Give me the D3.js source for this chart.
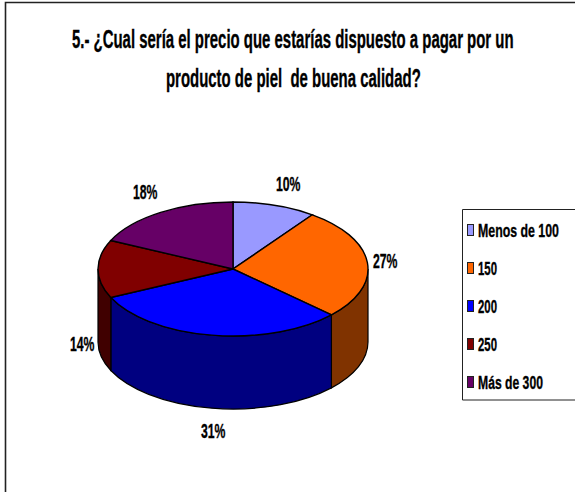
<!DOCTYPE html>
<html><head><meta charset="utf-8">
<script src="https://cdn.jsdelivr.net/npm/d3@7"></script>
<style>html,body{margin:0;padding:0;background:#fff}svg{display:block}text{font-family:"Liberation Sans",Arial,sans-serif;font-weight:bold;fill:#000;stroke:#000;stroke-width:.35;white-space:pre}</style>
</head><body><svg id="c" width="575" height="492"></svg>
<script>
const categories = ["Menos de 100","150","200","250","Más de 300"];
const values = [10,27,31,14,18];
const labels = ["10%","27%","31%","14%","18%"];
const topColors = ["#9999FF","#FF6600","#0000FF","#800000","#660066"];
const sideColors = ["#4C4C80","#803300","#000080","#400000","#330033"];
const titleLines = ["5.- ¿Cual sería el precio que estarías dispuesto a pagar por un","producto de piel  de buena calidad?"];

const svg = d3.select("#c");
// text squeezed horizontally to fit [x, x+w]
function fit(t,x,y,w,fs){
  const el=svg.append("text").attr("font-size",fs).text(t);
  const k=w/el.node().getComputedTextLength();
  el.attr("transform",`translate(${x},${y}) scale(${k},1)`);
  return el;
}
// frame
svg.append("path").attr("d","M575,2.5H5.5V492").attr("fill","none").attr("stroke","#222").attr("stroke-width",1.6);

// title
const titlePos=[[72,48,442],[166,87,255]];
titleLines.forEach((t,i)=>fit(t,titlePos[i][0],titlePos[i][1],titlePos[i][2],25));

// pie
const cx=233, cy=269, rx=135, ry=67, depth=73;
const slices=d3.pie().sort(null).value(d=>d)(values);
const pt=(a,dy=0)=>[cx+rx*Math.sin(a), cy+dy-ry*Math.cos(a)];
const vis=[Math.PI/2,3*Math.PI/2];
const sideG=svg.append("g");
slices.forEach((d,i)=>{
  const a0=Math.max(d.startAngle,vis[0]), a1=Math.min(d.endAngle,vis[1]);
  if(a1<=a0) return;
  const p=[pt(a0),pt(a1),pt(a1,depth),pt(a0,depth)];
  sideG.append("path").attr("fill",sideColors[i]).attr("stroke","#000").attr("stroke-width",1.2)
   .attr("d",`M${p[0]}A${rx},${ry} 0 0 1 ${p[1]}L${p[2]}A${rx},${ry} 0 0 0 ${p[3]}Z`);
});
const arcGen=d3.arc().innerRadius(0).outerRadius(rx);
const topFace=svg.append("g").attr("transform",`translate(${cx},${cy}) scale(1,${ry/rx})`);
topFace.selectAll("path").data(slices).join("path").attr("d",arcGen).attr("fill",(d,i)=>topColors[i])
 .attr("stroke","#000").attr("stroke-width",1.4).attr("vector-effect","non-scaling-stroke");

// data labels
const labelPos=[[276,191],[373,268],[201,438],[70,351],[133,199]];
labels.forEach((t,i)=>fit(t,labelPos[i][0],labelPos[i][1],24.5,20));

// legend
svg.append("path").attr("d","M575,209.5H462.5V400H575").attr("fill","#fff").attr("stroke","#222").attr("stroke-width",1);
const ly=d3.scalePoint().domain(categories).range([230,382]);
const legendWidths=[81,19,19,19,65];
categories.forEach((c,i)=>{
  svg.append("rect").attr("x",467.5).attr("y",ly(c)-5.5).attr("width",6).attr("height",11)
   .attr("fill",topColors[i]).attr("stroke","#222").attr("stroke-width",1);
  fit(c,478,ly(c)+6.5,legendWidths[i],19);
});
</script></body></html>
